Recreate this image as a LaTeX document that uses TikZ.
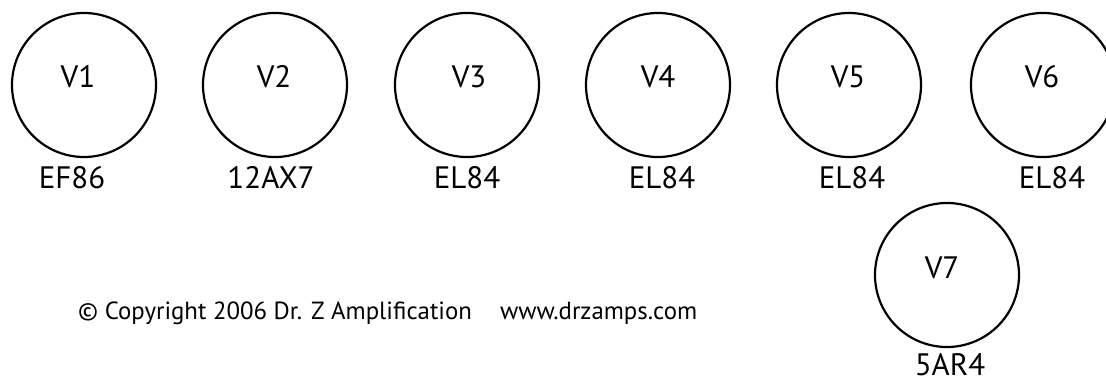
\documentclass[tikz,border=0pt]{standalone}
\usepackage{fontspec}
\setmainfont{PT Sans}
\begin{document}
\begin{tikzpicture}[x=1pt,y=-1pt,
  tube/.style={circle,draw,line width=2.2pt,minimum size=144pt,inner sep=0pt},
  tname/.style={anchor=base,font=\fontsize{31}{31}\selectfont,inner sep=0pt},
  ttype/.style={anchor=base,font=\fontsize{31}{31}\selectfont,inner sep=0pt},
  note/.style={anchor=base west,font=\fontsize{24.8}{24.8}\selectfont,inner sep=0pt}]
\useasboundingbox (0,0) rectangle (1106,385);
% tubes
\node[tube] (v1) at (84,85) {};
\node[tube] (v2) at (275,85) {};
\node[tube] (v3) at (467,85) {};
\node[tube] (v4) at (658,85) {};
\node[tube] (v5) at (849,85) {};
\node[tube] (v6) at (1043,85) {};
\node[tube] (v7) at (947,275) {};
% names
\node[tname] (n1) at (78,88) {V1};
\node[tname] (n2) at (274,88) {V2};
\node[tname] (n3) at (469,88) {V3};
\node[tname] (n4) at (658,88) {V4};
\node[tname] (n5) at (848,88) {V5};
\node[tname] (n6) at (1042,88) {V6};
\node[tname] (n7) at (942,278) {V7};
% types
\node[ttype] (t1) at (72,189) {EF86};
\node[ttype] (t2) at (271,189) {12AX7};
\node[ttype] (t3) at (467,189) {EL84};
\node[ttype] (t4) at (662,189) {EL84};
\node[ttype] (t5) at (852,189) {EL84};
\node[ttype] (t6) at (1052,189) {EL84};
\node[ttype] (t7) at (950,375) {5AR4};
% copyright
\node[note] (copy) at (78,319) {© Copyright 2006 Dr. Z Amplification};
\node[note] (web) at (500,319) {www.drzamps.com};
\end{tikzpicture}
\end{document}
